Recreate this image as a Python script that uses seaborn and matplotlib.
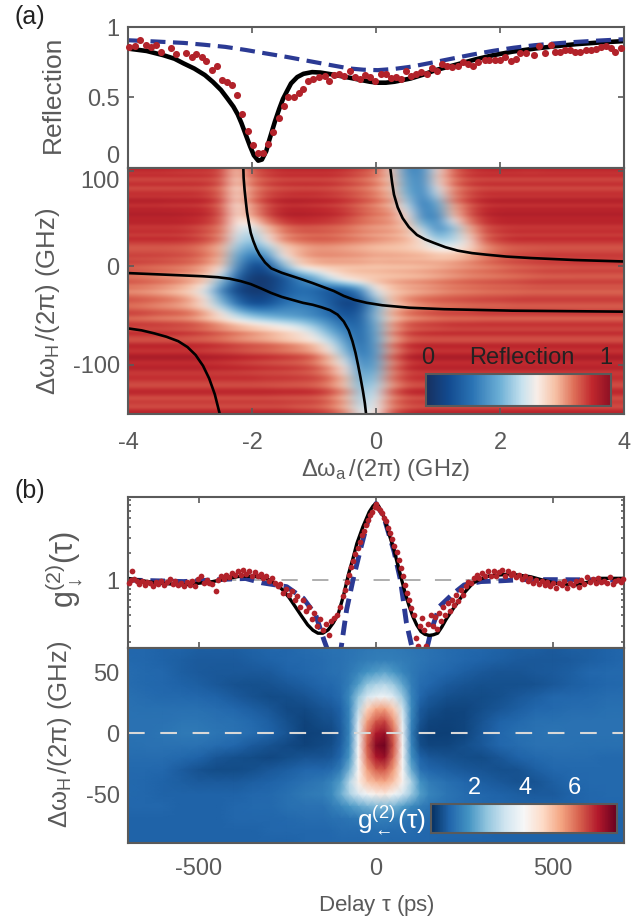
import numpy as np
import matplotlib
matplotlib.use("Agg")
import matplotlib.pyplot as plt
from matplotlib.colors import LinearSegmentedColormap
from matplotlib.ticker import LogLocator, NullFormatter
import seaborn as sns

# ---------------- DATA: panel (a) reflection trace ----------------
a_dots_x = [-3.98, -3.89, -3.80, -3.71, -3.63, -3.55, -3.47, -3.30, -3.22, -3.07, -2.97, -2.90, -2.80, -2.74, -2.65, -2.57,
            -2.49, -2.40, -2.32, -2.24, -2.16, -2.07, -1.99, -1.91, -1.82, -1.74, -1.66, -1.57, -1.49, -1.42, -1.33, -1.25,
            -1.17, -1.09, -1.01, -0.92, -0.83, -0.76, -0.68, -0.59, -0.51, -0.42, -0.34, -0.26, -0.18, -0.09, -0.01, 0.08,
            0.16, 0.24, 0.32, 0.40, 0.49, 0.57, 0.65, 0.73, 0.82, 0.90, 0.99, 1.07, 1.15, 1.23, 1.32, 1.40, 1.49, 1.57,
            1.65, 1.75, 1.83, 1.92, 2.00, 2.08, 2.17, 2.25, 2.33, 2.42, 2.55, 2.63, 2.72, 2.82, 2.88, 2.96, 3.05, 3.13,
            3.21, 3.29, 3.38, 3.46, 3.55, 3.63, 3.71, 3.79, 3.86, 3.95]
a_dots_y = [.859, .864, .906, .875, .859, .871, .82, .85, .805, .816, .788, .805, .79, .757, .694, .722,
            .624, .612, .588, .518, .381, .259, .16, .106, .106, .172, .252, .358, .44, .50, .50, .53,
            .558, .616, .628, .647, .652, .62, .659, .67, .652, .687, .642, .628, .659, .647, .619, .666,
            .67, .635, .647, .628, .687, .652, .666, .678, .666, .706, .689, .736, .725, .718, .722, .753, .741, .725,
            .753, .765, .765, .765, .765, .784, .76, .776, .816, .816, .80, .864, .819, .871, .824, .824, .84, .84,
            .824, .824, .84, .835, .847, .859, .866, .854, .824, .854]
a_fit_x = [-4, -3.7, -3.43, -3.25, -3.1, -2.93, -2.76, -2.63, -2.5, -2.4, -2.3, -2.23, -2.17, -2.1, -2.03, -1.97, -1.9, -1.84,
           -1.77, -1.72, -1.63, -1.56, -1.5, -1.43, -1.37, -1.27, -1.17, -1.03, -0.9, -0.73, -0.57, -0.4, -0.24, -0.1, 0.03,
           0.16, 0.3, 0.56, 0.76, 0.96, 1.36, 1.62, 1.89, 2.2, 2.56, 2.9, 3.22, 3.6, 4]
a_fit_y = [.847, .83, .80, .775, .741, .705, .659, .61, .553, .495, .435, .38, .318, .235, .153, .09, .052, .06,
           .12, .2, .33, .42, .49, .55, .60, .645, .668, .68, .677, .665, .652, .638, .624, .612, .605,
           .605, .612, .635, .662, .694, .741, .772, .80, .825, .847, .864, .878, .89, .90]
a_model_x = [-4, -3.55, -3.1, -2.77, -2.43, -2.1, -1.77, -1.43, -1.1, -0.77, -0.43, -0.2, 0.03, 0.3, 0.56, 0.9, 1.23,
             1.56, 1.89, 2.22, 2.56, 2.9, 3.22, 3.6, 4]
a_model_y = [.906, .897, .887, .874, .859, .837, .812, .787, .76, .733, .706, .697, .694, .703, .718, .747, .776,
             .805, .831, .853, .871, .884, .894, .904, .913]

# ---------------- DATA: panel (a) map, reflection in percent ----------------
a_map_x = [-4, -3.75, -3.5, -3.25, -3, -2.75, -2.5, -2.25, -2, -1.75, -1.5, -1.25, -1, -0.75, -0.5, -0.25, 0,
           0.25, 0.5, 0.75, 1, 1.25, 1.5, 1.75, 2, 2.25, 2.5, 2.75, 3, 3.25, 3.5, 3.75, 4]
a_map_y = [100, 87.5, 75, 62.5, 50, 37.5, 25, 12.5, 0, -12.5, -25, -37.5, -50, -62.5, -75, -87.5, -100, -112.5, -125, -137.5, -150]
a_map = [
    [90, 90, 90, 89, 88, 88, 86, 68, 84, 88, 90, 90, 90, 90, 89, 86, 82, 65, 30, 30, 62, 82, 88, 90, 90, 90, 89, 90, 90, 90, 90, 90, 90],
    [87, 87, 87, 87, 87, 87, 84, 66, 80, 85, 87, 87, 87, 87, 85, 82, 78, 68, 35, 30, 65, 80, 86, 87, 87, 87, 87, 87, 87, 87, 87, 87, 87],
    [88, 88, 88, 88, 88, 87, 82, 64, 78, 85, 87, 88, 88, 87, 85, 82, 78, 70, 40, 28, 55, 78, 85, 88, 88, 88, 88, 88, 88, 88, 88, 88, 88],
    [90, 90, 90, 89, 89, 88, 82, 62, 76, 86, 90, 90, 89, 88, 86, 82, 78, 72, 50, 25, 40, 74, 84, 89, 90, 90, 90, 90, 90, 90, 90, 90, 90],
    [92, 92, 92, 92, 91, 90, 83, 62, 72, 84, 91, 92, 91, 90, 87, 82, 78, 76, 62, 30, 30, 66, 82, 90, 92, 92, 92, 92, 92, 92, 92, 92, 92],
    [89, 89, 89, 89, 88, 85, 80, 58, 52, 70, 80, 84, 84, 83, 81, 78, 76, 75, 70, 50, 30, 45, 72, 85, 88, 89, 89, 89, 89, 89, 89, 89, 89],
    [87, 87, 87, 87, 86, 83, 76, 52, 42, 58, 74, 78, 80, 80, 78, 76, 74, 72, 70, 62, 48, 50, 62, 80, 85, 87, 87, 87, 87, 87, 87, 87, 87],
    [85, 85, 85, 84, 83, 79, 72, 42, 28, 38, 62, 72, 76, 76, 75, 74, 72, 72, 71, 70, 66, 66, 70, 77, 82, 84, 85, 86, 86, 86, 86, 86, 86],
    [83, 82, 81, 80, 78, 74, 66, 34, 12, 15, 42, 62, 68, 70, 70, 70, 69, 70, 70, 71, 72, 74, 76, 78, 80, 82, 83, 84, 84, 85, 85, 85, 85],
    [81, 80, 78, 76, 73, 68, 48, 20, 5, 5, 14, 28, 38, 54, 64, 68, 70, 71, 72, 73, 75, 77, 79, 80, 81, 82, 83, 84, 84, 84, 84, 84, 84],
    [79, 78, 76, 73, 68, 56, 30, 10, 4, 6, 16, 24, 22, 16, 18, 30, 58, 70, 74, 76, 78, 80, 81, 82, 83, 83, 84, 84, 84, 84, 84, 84, 84],
    [81, 80, 78, 76, 72, 62, 44, 24, 12, 14, 24, 28, 26, 18, 8, 12, 40, 66, 74, 78, 80, 81, 82, 83, 83, 84, 84, 84, 84, 84, 84, 84, 84],
    [84, 83, 81, 80, 78, 72, 62, 50, 42, 38, 36, 34, 30, 24, 15, 18, 44, 70, 78, 81, 83, 84, 84, 85, 85, 85, 85, 85, 85, 85, 85, 85, 85],
    [85, 85, 85, 84, 83, 80, 76, 72, 68, 64, 60, 56, 48, 36, 26, 20, 40, 72, 82, 84, 85, 86, 86, 86, 86, 86, 86, 86, 86, 86, 86, 86, 86],
    [87, 87, 87, 87, 86, 85, 83, 80, 78, 76, 72, 68, 62, 50, 34, 20, 38, 74, 85, 87, 87, 87, 87, 87, 87, 87, 87, 87, 87, 87, 87, 87, 87],
    [90, 90, 90, 90, 90, 89, 88, 87, 85, 84, 82, 80, 76, 64, 44, 24, 36, 76, 88, 90, 90, 90, 90, 90, 90, 90, 90, 90, 90, 90, 90, 90, 90],
    [92, 92, 92, 92, 92, 92, 91, 90, 89, 88, 87, 86, 83, 74, 58, 30, 38, 78, 90, 92, 92, 92, 92, 92, 92, 92, 92, 92, 92, 92, 92, 92, 92],
    [86, 86, 86, 86, 86, 86, 86, 86, 86, 85, 85, 84, 83, 78, 66, 38, 44, 76, 85, 86, 86, 86, 86, 86, 86, 86, 86, 86, 86, 86, 86, 86, 86],
    [88, 88, 88, 88, 88, 88, 88, 88, 88, 88, 87, 87, 86, 82, 72, 44, 50, 78, 87, 88, 88, 88, 88, 88, 88, 88, 88, 88, 88, 88, 88, 88, 88],
    [85, 85, 85, 85, 85, 85, 85, 85, 85, 85, 85, 84, 84, 80, 72, 48, 56, 78, 84, 85, 85, 85, 85, 85, 85, 85, 85, 85, 85, 85, 85, 85, 85],
    [90, 90, 90, 90, 90, 90, 90, 90, 90, 90, 90, 88, 87, 84, 76, 54, 60, 82, 88, 90, 90, 90, 90, 90, 90, 90, 90, 90, 90, 90, 90, 90, 90],
]
# thin horizontal stripes of the scan, percent, one value per 3 GHz from the top down
a_stripes = [0, 1, -1, 2, -2, 0, 2, -3, -1, 1, -1, 3, 2, -2, 1, 0, 2, -1, 0, 1, -2, -1, 1, -2, 2, 1, -1, -3, -2, 0,
             2, 0, 3, 1, -1, 2, 0, -2, 1, 3, -1, 0, -3, -1, 2, 3, 0, -2, 0, 3, 1, -4, -1, 3, 1, -1, 4, 0, -3, -2,
             3, 1, -2, 0, 4, 1, -3, -1, 2, -1, 0, 3, 1, -2, -3, 1, 4, 1, -2, 2, 0, -3, 1, 2]

# black polariton branches on the map
branch1_x = [-2.14, -2.135, -2.12, -2.10, -2.08, -2.05, -2.02, -1.98, -1.93, -1.88, -1.79, -1.69, -1.52, -1.35, -1.18, -1.02,
             -0.85, -0.68, -0.52, -0.35, -0.15, 0.10, 0.54, 1.1, 2.2, 4]
branch1_y = [100, 90, 78, 66, 55, 44, 34, 26, 18, 12, 4, -2, -6.5, -10, -13.5, -17,
             -21, -25, -30, -34, -37, -39.5, -42, -43.5, -45, -46]
branch2_x = [-4, -3.36, -2.8, -2.55, -2.36, -2.18, -2.02, -1.85, -1.69, -1.52, -1.35, -1.18, -1.02, -0.88, -0.74, -0.62,
             -0.52, -0.44, -0.38, -0.33, -0.29, -0.25, -0.21, -0.18, -0.16]
branch2_y = [-6.8, -8.5, -10, -11, -12.5, -15, -18, -22.5, -27, -31, -34, -37, -39, -41.5, -44.5, -49,
             -56, -65, -76, -88, -100, -113, -127, -139, -150]
branch3_x = [-4, -3.78, -3.58, -3.38, -3.19, -3.04, -2.91, -2.79, -2.69, -2.6, -2.52]
branch3_y = [-63, -65, -68, -71.5, -76, -82, -90, -101, -114, -130, -150]
branch4_x = [0.23, 0.26, 0.29, 0.35, 0.43, 0.53, 0.66, 0.79, 0.93, 1.12, 1.32, 1.55, 1.77, 2.1, 2.5, 3.2, 4]
branch4_y = [100, 85, 73, 60, 49, 40, 32, 27.5, 24, 19.5, 16, 13.5, 12, 10, 8.5, 6.5, 5]

# ---------------- DATA: panel (b) correlation trace ----------------
b_dots_x = [-698, -692, -688, -682, -675, -668, -660, -652, -645, -638, -630, -622, -614, -606, -598, -590, -582, -574, -566, -558,
            -550, -542, -534, -526, -518, -510, -502, -494, -486, -478, -470, -462, -452, -445, -438, -430, -422, -414, -406, -398,
            -390, -382, -374, -366, -358, -350, -342, -334, -326, -318, -310, -302, -294, -286, -278, -270, -262, -254, -246, -238,
            -230, -222, -214, -206, -198, -190, -182, -174, -166, -158, -150, -142, -134, -126, -118, -110, -102, -94, -88, -82,
            -76, -70, -64, -58, -52, -46, -40, -34, -28, -22, -16, -10, -4, 0, 5, 10, 16, 22, 28, 34,
            40, 46, 52, 58, 64, 70, 76, 82, 88, 94, 100, 106, 112, 118, 124, 130, 136, 142, 148, 154,
            160, 166, 172, 178, 184, 190, 196, 202, 208, 214, 220, 226, 232, 240, 246, 254, 260, 268, 276, 284,
            292, 300, 308, 316, 324, 332, 340, 348, 356, 364, 372, 380, 388, 396, 404, 412, 420, 428, 436, 444,
            452, 460, 468, 476, 484, 492, 500, 508, 516, 524, 532, 540, 548, 556, 564, 572, 580, 588, 596, 604,
            612, 620, 628, 636, 644, 652, 660, 668, 676, 684, 692, 698]
b_dots_y = [.92, 1.0, 1.26, 1.02, .97, .90, .98, .88, .95, .92, .85, .96, .90, .98, .88, .94, 1.03, .90, .97, .87,
            .92, .85, .95, .88, .98, .86, 1.02, 1.1, .92, 1.0, .93, .90, .75, 1.0, 1.12, 1.03, 1.15, 1.07, 1.2, 1.13,
            1.25, 1.15, 1.3, 1.18, 1.27, 1.12, 1.22, 1.1, 1.18, 1.05, 1.1, .98, 1.05, .92, .85, .9, .72, .8, .68, .76,
            .6, .66, .5, .6, .45, .5, .36, .42, .3, .36, .27, .32, .24, .34, .37, .4, .5, .66, .78, .95,
            1.15, 1.4, 1.65, 1.95, 2.3, 2.7, 3.2, 3.6, 4.2, 4.8, 5.4, 5.9, 6.7, 7.2, 6.6, 6.2, 5.8, 5.0, 4.6, 3.9,
            3.4, 2.9, 2.4, 2.1, 1.7, 1.35, 1.1, .88, .72, .6, .48, .4, .22, .18, .3, .37, .27, .18, .32, .4,
            .3, .38, .28, .42, .34, .5, .4, .55, .45, .6, .52, .68, .58, .78, .68, .85, .95, .92, 1.05, 1.15,
            1.05, 1.2, 1.12, 1.25, 1.1, 1.27, 1.12, 1.22, 1.3, 1.1, 1.25, 1.15, 1.2, 1.07, 1.15, 1.03, 1.1, .98, 1.05, .92,
            1.0, .9, .98, .87, .94, .85, .92, .82, .93, .88, .97, .82, .92, .88, .98, .84, 1.0, .9, 1.07, .95,
            1.02, .92, 1.05, .95, .98, .92, 1.08, .9, .98, 1.0, .95, 1.03]
b_fit_x = [-700, -625, -543, -462, -420, -380, -345, -310, -285, -263, -245, -228, -210, -193, -178, -164, -150, -135, -120, -106,
           -92, -77, -65, -54, -37, -19, -8, 0, 8, 22, 36, 51, 65, 80, 92, 104, 115, 127, 138, 150, 162, 174, 186, 197, 214, 232,
           252, 273, 295, 319, 378, 436, 470, 506, 564, 600, 634, 700]
b_fit_y = [1.044, .933, .878, .958, 1.04, 1.11, 1.10, 1.044, .92, .771, .63, .50, .39, .311, .27, .25, .25, .273, .33, .421,
           .66, 1.19, 1.75, 2.59, 4.0, 5.9, 6.9, 7.33, 6.8, 5.18, 3.4, 2.18, 1.3, .771, .53, .386, .31, .261, .243, .236, .24, .25, .295, .354, .45, .57,
           .74, .917, 1.03, 1.11, 1.17, 1.09, 1.0, .917, .878, .95, 1.044, 1.044]
b_model_x = [-700, -543, -426, -368, -322, -252, -205, -170, -147, -135, -100, -83, -65, -42, -19, 0, 22, 51, 69, 86, 101, 109,
             138, 156, 179, 214, 249, 296, 354, 413, 495, 700]
b_model_y = [1.0, .96, 1.02, 1.04, .93, .84, .62, .40, .21, .155, .155, .46, 1.0, 2.38, 5.3, 7.33, 5.18, 2.1, 1.0, .325, .177, .136,
             .136, .27, .5, .68, .88, .96, .98, 1.01, 1.01, 1.0]

# ---------------- DATA: panel (b) map, g2 values (finer columns around zero delay) ----------------
b_map_x = [-700, -650, -600, -550, -500, -450, -400, -350, -300, -250, -200,
           -150, -125, -100, -75, -50, -25, 0, 25, 50, 75, 100, 125, 150,
           200, 250, 300, 350, 400, 450, 500, 550, 600, 650, 700]
b_map_y = [70, 60, 50, 40, 30, 20, 10, 0, -10, -20, -30, -40, -50, -60, -70, -80, -90]
b_map = [
    [1.0, 1.0, .95, .95, .9, .9, .9, .95, 1.0, 1.0, 1.1, 1.15, 1.18, 1.2, 1.22, 1.25, 1.28, 1.3, 1.3, 1.3, 1.28, 1.25, 1.22, 1.2, 1.1, 1.05, 1.0, .95, .9, .9, .85, .9, .9, .95, 1.0],
    [1.05, 1.0, .95, .9, .85, .85, .85, .9, .95, 1.0, 1.05, 1.1, 1.15, 1.2, 1.25, 1.3, 1.35, 1.4, 1.4, 1.4, 1.35, 1.3, 1.25, 1.2, 1.1, 1.0, .95, .9, .85, .8, .8, .85, .9, .95, 1.0],
    [1.1, 1.05, 1.0, .9, .85, .8, .8, .8, .85, .95, 1.0, 1.1, 1.15, 1.2, 1.3, 1.5, 1.75, 1.9, 2.0, 1.8, 1.5, 1.3, 1.2, 1.1, 1.0, .9, .8, .75, .75, .8, .85, .9, 1.0, 1.05, 1.05],
    [1.1, 1.05, 1.0, .95, .9, .8, .72, .68, .72, .8, .9, 1.0, 1.05, 1.15, 1.4, 1.9, 2.5, 2.8, 2.9, 2.6, 2.0, 1.4, 1.1, 1.0, .85, .75, .7, .68, .7, .72, .8, .9, .95, 1.0, 1.05],
    [1.15, 1.1, 1.05, 1.05, 1.0, .95, .85, .72, .64, .66, .75, .9, .95, 1.1, 1.6, 2.5, 3.3, 3.7, 3.8, 3.4, 2.6, 1.5, 1.0, .85, .7, .62, .64, .7, .8, .9, 1.0, 1.0, 1.05, 1.1, 1.1],
    [1.2, 1.15, 1.15, 1.15, 1.15, 1.1, 1.0, .9, .78, .6, .6, .75, .8, .95, 1.5, 2.9, 4.8, 5.4, 5.5, 4.9, 3.2, 1.6, .85, .7, .56, .56, .66, .78, .9, 1.0, 1.05, 1.1, 1.1, 1.15, 1.15],
    [1.2, 1.2, 1.2, 1.25, 1.25, 1.2, 1.15, 1.05, .9, .7, .52, .65, .7, .9, 1.5, 3.4, 5.5, 6.3, 6.5, 5.6, 3.6, 1.5, .75, .55, .48, .55, .75, .95, 1.05, 1.15, 1.15, 1.2, 1.2, 1.2, 1.2],
    [1.2, 1.2, 1.25, 1.3, 1.3, 1.25, 1.2, 1.1, .95, .75, .5, .55, .6, .85, 1.5, 3.7, 6.0, 7.0, 7.2, 6.1, 3.8, 1.4, .6, .45, .45, .55, .8, 1.0, 1.15, 1.2, 1.25, 1.2, 1.2, 1.2, 1.2],
    [1.15, 1.2, 1.2, 1.2, 1.2, 1.1, 1.0, .85, .72, .6, .52, .6, .65, .9, 1.6, 3.9, 6.2, 7.4, 7.6, 6.3, 4.0, 1.5, .65, .55, .55, .65, .8, 1.0, 1.1, 1.2, 1.2, 1.2, 1.15, 1.15, 1.15],
    [1.1, 1.1, 1.1, 1.05, .95, .78, .68, .62, .58, .66, .75, .75, .8, 1.05, 1.8, 4.0, 6.0, 7.0, 7.2, 6.0, 4.0, 1.7, .95, .8, .72, .66, .64, .78, .95, 1.05, 1.1, 1.1, 1.1, 1.05, 1.05],
    [1.05, 1.05, 1.0, .88, .72, .62, .62, .68, .8, .9, 1.0, 1.0, 1.1, 1.4, 2.2, 4.0, 5.5, 6.2, 6.3, 5.5, 4.0, 2.1, 1.2, 1.0, .9, .82, .74, .68, .72, .9, 1.0, 1.05, 1.05, 1.05, 1.05],
    [1.05, 1.0, .95, .9, .85, .85, .85, .9, .95, 1.05, 1.2, 1.3, 1.5, 1.9, 2.9, 4.2, 5.0, 5.3, 5.4, 5.0, 4.1, 2.8, 1.7, 1.35, 1.15, 1.0, .9, .8, .72, .75, .9, 1.0, 1.05, 1.05, 1.05],
    [1.05, 1.0, .95, .95, .95, .95, .95, 1.0, 1.05, 1.15, 1.3, 1.4, 1.6, 2.1, 2.8, 3.4, 3.9, 4.2, 4.3, 3.9, 3.3, 2.6, 1.9, 1.5, 1.25, 1.1, 1.0, .95, .9, .85, .85, .95, 1.0, 1.05, 1.05],
    [1.0, 1.0, 1.0, .95, .95, .95, 1.0, 1.05, 1.05, 1.15, 1.2, 1.2, 1.35, 1.55, 1.8, 2.0, 2.2, 2.3, 2.3, 2.2, 1.9, 1.6, 1.4, 1.25, 1.15, 1.1, 1.05, 1.0, .95, .95, .95, .95, 1.0, 1.0, 1.0],
    [.95, .95, .95, .95, .95, .95, 1.0, 1.0, 1.0, 1.05, 1.1, 1.1, 1.15, 1.2, 1.25, 1.3, 1.35, 1.38, 1.38, 1.35, 1.3, 1.2, 1.15, 1.1, 1.05, 1.0, 1.0, 1.0, .95, .95, .95, .95, .95, .95, .95],
    [.95, .95, .95, .95, .95, .95, .95, .95, 1.0, 1.0, 1.0, 1.0, 1.05, 1.1, 1.1, 1.1, 1.1, 1.12, 1.12, 1.1, 1.1, 1.1, 1.05, 1.0, 1.0, 1.0, 1.0, .95, .95, .95, .95, .95, .95, .95, .95],
    [.95, .95, .95, .95, .95, .95, .95, .95, .95, .95, 1.0, 1.0, 1.0, 1.0, 1.0, 1.0, 1.05, 1.05, 1.05, 1.0, 1.0, 1.0, 1.0, 1.0, .95, .95, .95, .95, .95, .95, .95, .95, .95, .95, .95],
]

# ---------------- STYLE ----------------
sns.set_style("ticks")
plt.rcParams["font.family"] = ["Liberation Sans", "DejaVu Sans"]
plt.rcParams["mathtext.fontset"] = "custom"
plt.rcParams["mathtext.rm"] = "Liberation Sans"
plt.rcParams["mathtext.it"] = "Liberation Sans"
plt.rcParams["mathtext.bf"] = "Liberation Sans"
plt.rcParams["mathtext.default"] = "regular"
plt.rcParams["axes.unicode_minus"] = False

W, H = 644, 921
GREY = "#5a5a5a"
RED = "#b2222a"
BLUE = "#2b3a94"
FS = 17

reflect_cmap = LinearSegmentedColormap.from_list("reflect", [
    (0.0, "#17305f"), (0.12, "#124a8f"), (0.25, "#2a73b4"), (0.4, "#6db0d6"), (0.52, "#c8e2ee"),
    (0.6, "#f8eee8"), (0.7, "#f6c0a4"), (0.8, "#de6f58"), (0.9, "#c0272d"), (1.0, "#8d1024")])
g2_cmap = sns.color_palette("RdBu_r", as_cmap=True)


def box(left, top, right, bottom):
    return [left / W, 1 - bottom / H, (right - left) / W, (bottom - top) / H]


def style_axes(ax):
    for s in ax.spines.values():
        s.set_visible(True)
        s.set_color(GREY)
        s.set_linewidth(1.5)
    ax.tick_params(which="both", direction="in", top=True, right=True, color=GREY, labelcolor=GREY,
                   labelsize=FS, width=1.2, length=4)
    ax.tick_params(axis="y", pad=6)
    ax.tick_params(axis="x", pad=11)
    ax.tick_params(which="minor", length=2.5)


def ylabel_at(ax, text, px, size, frac=0.5):
    ax.set_ylabel(text, fontsize=size, color=GREY, va="center")
    ax.yaxis.set_label_coords((px - 128) / 496, frac)


fig = plt.figure(figsize=(W / 100, H / 100), dpi=100, facecolor="white")

# ---------------- (a) trace ----------------
ax1 = fig.add_axes(box(128, 27, 624, 168))
sns.lineplot(x=a_fit_x, y=a_fit_y, ax=ax1, color="black", linewidth=3.3, sort=False, estimator=None)
sns.lineplot(x=a_model_x, y=a_model_y, ax=ax1, color=BLUE, linewidth=3, sort=False, estimator=None, linestyle=(0, (3.6, 1.8)))
sns.scatterplot(x=a_dots_x, y=a_dots_y, ax=ax1, color=RED, s=26, linewidth=0, zorder=5, clip_on=False)
ax1.set_xlim(-4, 4)
ax1.set_ylim(0, 1)
ax1.set_xticks([-2, 0, 2])
ax1.set_xticklabels([])
ax1.set_yticks([0, 0.5, 1])
ax1.set_yticklabels(["0", "0.5", "1"])
style_axes(ax1)
ax1.get_yticklabels()[0].set_verticalalignment("bottom")
ylabel_at(ax1, "Reflection", 53, 19, 0.52)

# ---------------- (a) map ----------------
ax2 = fig.add_axes(box(128, 168, 624, 414))
# stripes sit on the 3 GHz rows, the coarse reading is carried onto those rows
rows_y = np.array(a_map_y[0]) - 3.0 * np.arange(len(a_stripes))
coarse = np.array(a_map, dtype=float)
fine = np.array([np.interp(-rows_y, -np.array(a_map_y), coarse[:, j]) for j in range(coarse.shape[1])]).T
fine = fine + np.array(a_stripes)[:, None] * np.clip((fine - 50) / 25, 0, 1)
a_extent = [a_map_x[0] - 0.125, a_map_x[-1] + 0.125, rows_y[-1] - 1.5, rows_y[0] + 1.5]
im_a = ax2.imshow(fine / 100, cmap=reflect_cmap, vmin=0, vmax=1, aspect="auto", interpolation="bicubic", extent=a_extent)
for bx, by in [(branch1_x, branch1_y), (branch2_x, branch2_y), (branch3_x, branch3_y), (branch4_x, branch4_y)]:
    sns.lineplot(x=bx, y=by, ax=ax2, color="black", linewidth=1.9, sort=False, estimator=None)
ax2.set_xlim(-4, 4)
ax2.set_ylim(-150, 100)
ax2.set_xticks([-4, -2, 0, 2, 4])
ax2.set_xticklabels(["-4", "-2", "0", "2", "4"])
ax2.set_yticks([97, 0, -100])
ax2.set_yticklabels(["100", "0", "-100"])
style_axes(ax2)
ax2.tick_params(axis="x", pad=13)
ax2.get_yticklabels()[0].set_verticalalignment("top")
ax2.set_xlabel(r"$\Delta\omega_{a}\,/(2\pi)$ (GHz)", fontsize=17, color=GREY)
ax2.xaxis.set_label_coords((386 - 128) / 496, -(457 - 414) / 246)
ylabel_at(ax2, r"$\Delta\omega_{H}\,/(2\pi)$ (GHz)", 48, 18.5, 0.46)

cax_a = fig.add_axes(box(426, 374, 611, 406))
cb_a = fig.colorbar(im_a, cax=cax_a, orientation="horizontal")
cb_a.set_ticks([])
cb_a.outline.set_edgecolor(GREY)
cb_a.outline.set_linewidth(1.5)
fig.text(428 / W, 1 - 358 / H, "0", fontsize=FS, color="#222222", ha="center", va="center")
fig.text(522 / W, 1 - 358 / H, "Reflection", fontsize=FS, color="#222222", ha="center", va="center")
fig.text(606 / W, 1 - 358 / H, "1", fontsize=FS, color="#222222", ha="center", va="center")

# ---------------- (b) trace ----------------
ax3 = fig.add_axes(box(128, 497, 624, 648))
sns.lineplot(x=b_model_x, y=b_model_y, ax=ax3, color=BLUE, linewidth=3.5, sort=False, estimator=None, linestyle=(0, (3, 1.6)))
ax3.axhline(1, color="#a8a8a8", linewidth=1.3, dashes=(9, 8), zorder=1)
sns.lineplot(x=b_fit_x, y=b_fit_y, ax=ax3, color="black", linewidth=2.4, sort=False, estimator=None)
sns.scatterplot(x=b_dots_x, y=b_dots_y, ax=ax3, color=RED, s=17, linewidth=0, zorder=5, clip_on=False)
ax3.set_yscale("log")
ax3.set_xlim(-700, 700)
ax3.set_ylim(0.17, 8.7)
ax3.set_xticks([-500, 0, 500])
ax3.set_xticklabels([])
ax3.set_yticks([1])
ax3.set_yticklabels(["1"])
ax3.yaxis.set_minor_locator(LogLocator(base=10, subs=range(2, 10), numticks=12))
ax3.yaxis.set_minor_formatter(NullFormatter())
style_axes(ax3)
ax3.tick_params(axis="x", which="minor", top=False, bottom=False)
ylabel_at(ax3, r"g$^{(2)}_{\downarrow}$($\tau$)", 64, 22, 0.52)

# ---------------- (b) map ----------------
ax4 = fig.add_axes(box(128, 648, 624, 843))
im_b = ax4.pcolormesh(b_map_x, b_map_y, np.array(b_map), cmap=g2_cmap, vmin=0.24, vmax=7.7, shading="gouraud", rasterized=True)
ax4.axhline(0, color="#d8d8d8", linewidth=1.5, dashes=(8, 7.5))
ax4.set_xlim(-700, 700)
ax4.set_ylim(-90, 70)
ax4.set_xticks([-500, 0, 500])
ax4.set_xticklabels(["-500", "0", "500"])
ax4.set_yticks([50, 0, -50])
ax4.set_yticklabels(["50", "0", "-50"])
style_axes(ax4)
ax4.set_xlabel(r"Delay $\tau$ (ps)", fontsize=16, color=GREY, labelpad=9)
ylabel_at(ax4, r"$\Delta\omega_{H}\,/(2\pi)$ (GHz)", 60, 18.5, 0.56)

cax_b = fig.add_axes(box(431, 804, 617, 833))
cb_b = fig.colorbar(im_b, cax=cax_b, orientation="horizontal")
cb_b.set_ticks([2, 4, 6])
cb_b.set_ticklabels([])
cb_b.outline.set_edgecolor(GREY)
cb_b.outline.set_linewidth(1.5)
cax_b.tick_params(direction="in", color=GREY, length=2, width=1)
for v in [2, 4, 6]:
    cax_b.text(v, 1.55, str(v), transform=cax_b.get_xaxis_transform(), color="white", fontsize=FS, ha="center", va="center")
fig.text(391 / W, 1 - 820 / H, r"g$^{(2)}_{\leftarrow}$($\tau$)", color="white", fontsize=19, ha="center", va="center")

fig.text(14 / W, 1 - 17 / H, "(a)", fontsize=18, color="#222222", va="center")
fig.text(14 / W, 1 - 491 / H, "(b)", fontsize=18, color="#222222", va="center")

fig.savefig("out.png", dpi=100)
